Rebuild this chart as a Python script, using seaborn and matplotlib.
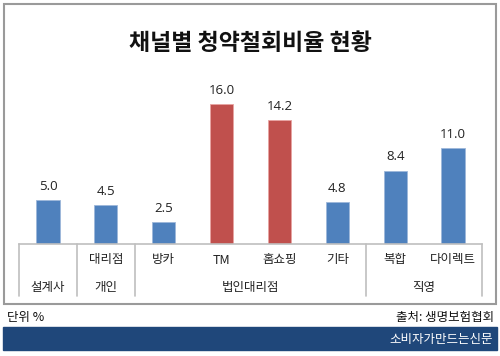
import matplotlib
matplotlib.use("Agg")
import matplotlib.pyplot as plt
import matplotlib.transforms as mtransforms
from matplotlib.patches import Rectangle
import seaborn as sns

# data
categories = ['설계사', '대리점', '방카', 'TM', '홈쇼핑', '기타', '복합', '다이렉트']
values = [5.0, 4.5, 2.5, 16.0, 14.2, 4.8, 8.4, 11.0]
row1_labels = ['', '대리점', '방카', 'TM', '홈쇼핑', '기타', '복합', '다이렉트']
groups = ['설계사', '개인', '법인대리점', '직영']
group_spans = [(0, 0), (1, 1), (2, 5), (6, 7)]
highlight = ['TM', '홈쇼핑']

blue = '#4F81BD'
red = '#C0504D'
colors = [red if c in highlight else blue for c in categories]

sns.set_theme(style='white')
plt.rcParams['font.family'] = ['Noto Sans CJK KR', 'DejaVu Sans']

W, H = 500, 356
fig = plt.figure(figsize=(5, 3.56), dpi=100)
ax = fig.add_axes([19 / W, 1 - 244 / H, (482 - 19) / W, (244 - 60) / H])

sns.barplot(x=categories, y=values, hue=categories, palette=colors,
            legend=False, width=0.4, ax=ax, saturation=1,
            edgecolor='#9DB7DA', linewidth=0.6)
for p, c in zip(ax.patches, colors):
    if c == red:
        p.set_edgecolor('#E8A4A2')

ax.set_xlim(-0.5, 7.5)
ax.set_ylim(0, 184 / 8.75)
ax.set_xticks([])
ax.set_yticks([])
ax.set_xlabel('')
ax.set_ylabel('')
for s in ['top', 'right', 'left']:
    ax.spines[s].set_visible(False)
ax.spines['bottom'].set_color('#BFBFBF')
ax.spines['bottom'].set_linewidth(1.2)

for i, v in enumerate(values):
    ax.text(i, v + 0.8, f'{v:.1f}', ha='center', va='bottom', fontsize=9.5,
            color='#222222', family=['Open Sans', 'DejaVu Sans'])

trans = mtransforms.blended_transform_factory(ax.transData, ax.transAxes)
for xb in [-0.5, 0.5, 1.5, 5.5, 7.5]:
    ax.plot([xb, xb], [0, -52 / 184], transform=trans, color='#BFBFBF',
            lw=1.2, clip_on=False)
for i, lab in enumerate(row1_labels):
    if lab:
        ax.text(i, -16 / 184, lab, transform=trans, ha='center', va='center',
                fontsize=9, color='#222222')
for g, (a, b) in zip(groups, group_spans):
    ax.text((a + b) / 2, -43 / 184, g, transform=trans, ha='center',
            va='center', fontsize=9, color='#222222')

# frame, title, footer
fig.patches.append(Rectangle((4 / W, 1 - 304 / H), 492 / W, 300 / H,
                             transform=fig.transFigure, fill=False,
                             edgecolor='#9A9A9A', lw=1.5))
fig.text(0.5, 1 - 43 / H, '채널별 청약철회비율 현황', ha='center', va='center',
         fontsize=16.5, fontweight='bold', color='#111111')
fig.text(7 / W, 1 - 318 / H, '단위 %', ha='left', va='center', fontsize=9,
         color='#111111')
fig.text(494 / W, 1 - 318 / H, '출처: 생명보험협회', ha='right', va='center',
         fontsize=9, color='#111111')
fig.patches.append(Rectangle((3 / W, 1 - 350 / H), 494 / W, 23 / H,
                             transform=fig.transFigure, color='#1F477A'))
fig.text(493 / W, 1 - 339 / H, '소비자가만드는신문', ha='right', va='center',
         fontsize=9, color='white')

fig.savefig('out.png', dpi=100)
